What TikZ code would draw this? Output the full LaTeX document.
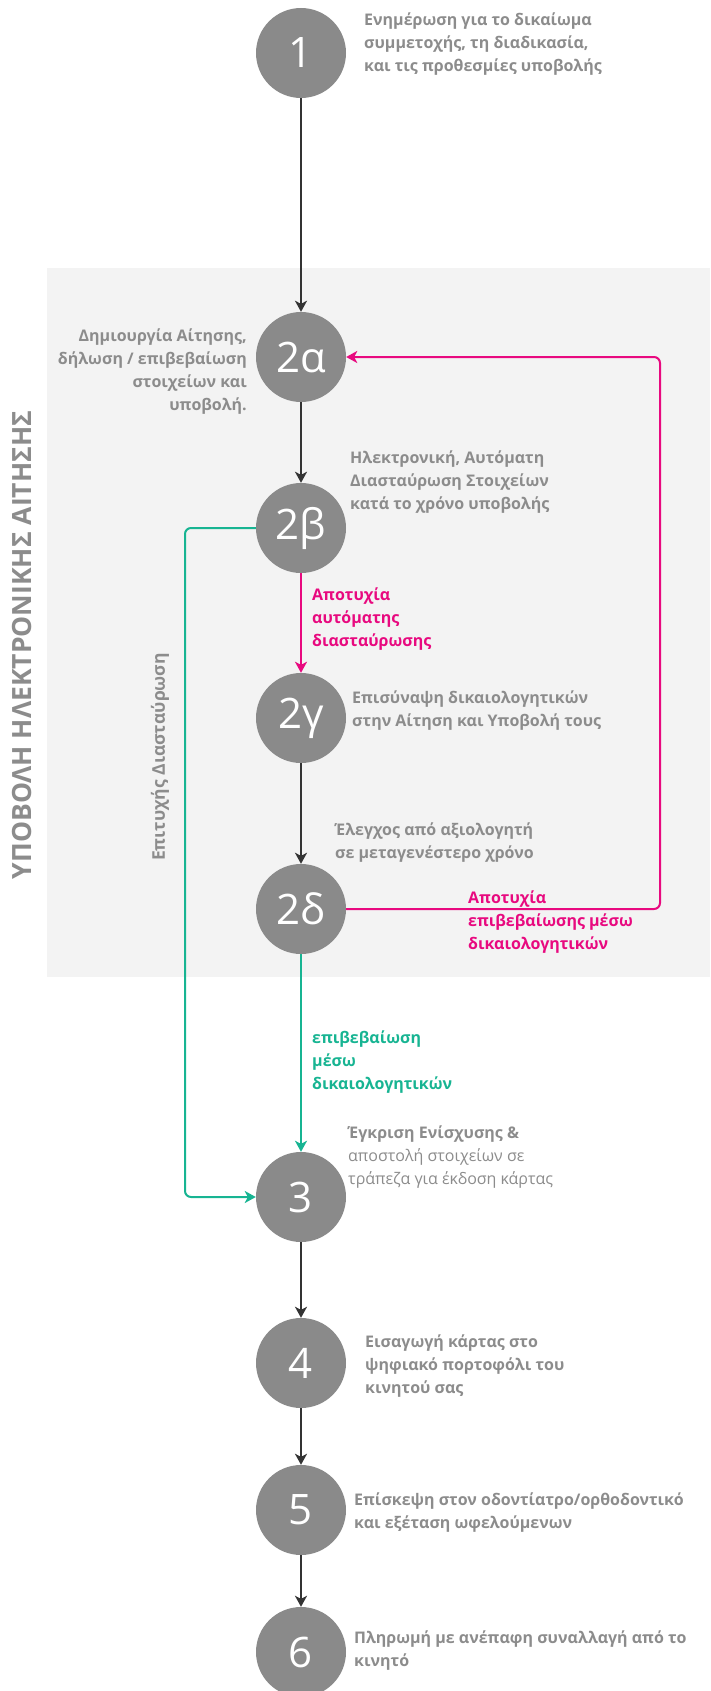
\documentclass[tikz,border=0pt]{standalone}
\usepackage{fontspec}
\setmainfont{Open Sans}
\usepackage{tikz}
\usetikzlibrary{arrows.meta}
\definecolor{circlegrey}{HTML}{8A8A8A}
\definecolor{textgrey}{HTML}{8C8C8C}
\definecolor{panelgrey}{HTML}{F3F3F3}
\definecolor{failpink}{HTML}{E8097F}
\definecolor{okgreen}{HTML}{17B492}
\definecolor{linkdark}{HTML}{333333}
\tikzstyle{stepcircle}=[
        circle,
        fill=circlegrey,
        minimum size=90pt,
        inner sep=0pt,
        text=white,
        font=\fontsize{42}{42}\selectfont
]
\tikzstyle{info}=[
        anchor=north west,
        align=left,
        inner sep=0pt,
        text=textgrey,
        font=\fontsize{16}{23}\selectfont\bfseries
]
\tikzstyle{flow}=[
        draw=linkdark,
        line width=2pt,
        -{Stealth[length=11pt,width=12pt,inset=3pt]}
]
\tikzstyle{fail}=[
        flow,
        draw=failpink,
        rounded corners=6pt
]
\tikzstyle{pass}=[
        flow,
        draw=okgreen,
        rounded corners=6pt
]

\begin{document}
\begin{tikzpicture}[x=1pt,y=-1pt]
                        \useasboundingbox (0,0) rectangle (710,1691);
                        \fill[panelgrey] (47,268) rectangle (710,977);

                        \node[rotate=90,text=textgrey,font=\fontsize{26.5}{26.5}\selectfont\bfseries] (title) at (22,645) {ΥΠΟΒΟΛΗ ΗΛΕΚΤΡΟΝΙΚΗΣ ΑΙΤΗΣΗΣ};

                        \foreach \name/\num/\y in {c1/1/53, c2a/2α/357, c2b/2β/528, c2g/2γ/718, c2d/2δ/909, c3/3/1197, c4/4/1363, c5/5/1510, c6/6/1652} {
                            \node[stepcircle] (\name) at (301,\y) {\num};
                        }

                        \node[info] (t1) at (364,9) {\strut Ενημέρωση για το δικαίωμα\\συμμετοχής, τη διαδικασία,\\και τις προθεσμίες υποβολής};
                        \node[info,anchor=north east,align=right] (t2a) at (247,325) {\strut Δημιουργία Αίτησης,\\δήλωση / επιβεβαίωση\\στοιχείων και\\υποβολή.};
                        \node[info] (t2b) at (350,447) {\strut Ηλεκτρονική, Αυτόματη\\Διασταύρωση Στοιχείων\\κατά το χρόνο υποβολής};
                        \node[info,text=failpink] (p1) at (312,584) {\strut Αποτυχία\\αυτόματης\\διασταύρωσης};
                        \node[info] (t2g) at (352,687) {\strut Επισύναψη δικαιολογητικών\\στην Αίτηση και Υποβολή τους};
                        \node[info] (t2d) at (335,819) {\strut Έλεγχος από αξιολογητή\\σε μεταγενέστερο χρόνο};
                        \node[info,text=failpink] (p2) at (468,887) {\strut Αποτυχία\\επιβεβαίωσης μέσω\\δικαιολογητικών};
                        \node[info,text=okgreen] (g1) at (312,1027) {\strut επιβεβαίωση\\μέσω\\δικαιολογητικών};
                        \node[info] (t3) at (348,1122) {\strut Έγκριση Ενίσχυσης \&\\\mdseries αποστολή στοιχείων σε\\\mdseries τράπεζα για έκδοση κάρτας};
                        \node[info] (t4) at (365,1331) {\strut Εισαγωγή κάρτας στο\\ψηφιακό πορτοφόλι του\\κινητού σας};
                        \node[info] (t5) at (354,1489) {\strut Επίσκεψη στον οδοντίατρο/ορθοδοντικό\\και εξέταση ωφελούμενων};
                        \node[info] (t6) at (354,1627) {\strut Πληρωμή με ανέπαφη συναλλαγή από το\\κινητό};
                        \node[rotate=90,text=textgrey,font=\fontsize{17.5}{17.5}\selectfont\bfseries] (g2) at (160,757) {Επιτυχής Διασταύρωση};

                        \coordinate (pk) at (660,357);
                        \coordinate (gk) at (185,1197);

                        \draw[flow] (c1) -- (c2a);
                        \draw[flow] (c2a) -- (c2b);
                        \draw[fail] (c2b) -- (c2g);
                        \draw[flow] (c2g) -- (c2d);
                        \draw[pass] (c2d) -- (c3);
                        \draw[flow] (c3) -- (c4);
                        \draw[flow] (c4) -- (c5);
                        \draw[flow] (c5) -- (c6);

                        \draw[fail] (c2d.east) -| (pk) -- (c2a.east);
                        \draw[pass] (c2b.west) -| (gk) -- (c3.west);
                    \end{tikzpicture}
\end{document}
